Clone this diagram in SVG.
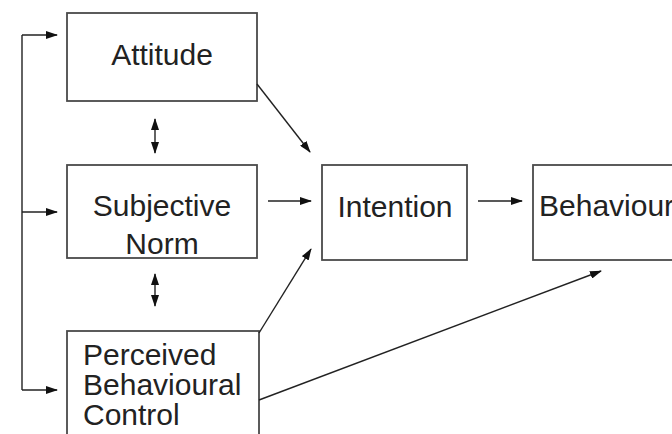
<svg xmlns="http://www.w3.org/2000/svg" width="672" height="434" viewBox="0 0 672 434">
  <style>
    .box { fill: #ffffff; stroke: #4a4a4a; stroke-width: 1.8; }
    .lbl { font-family: "Liberation Sans", Arial, sans-serif; font-size: 30px; fill: #222222; }
    .ln { fill: none; stroke: #222222; stroke-width: 1.4; }
  </style>
  <defs>
    <marker id="ah" viewBox="0 0 12 8" refX="11" refY="4" markerWidth="12" markerHeight="8" markerUnits="userSpaceOnUse" orient="auto-start-reverse">
      <path d="M0,0 L12,4 L0,8 Z" fill="#111111"/>
    </marker>
  </defs>
  <rect width="672" height="434" fill="#ffffff"/>

  <g id="attitude">
    <rect class="box" x="67" y="13" width="190" height="88"/>
    <text class="lbl" x="162" y="65" text-anchor="middle">Attitude</text>
  </g>
  <g id="subjective-norm">
    <rect class="box" x="67" y="165" width="190" height="93"/>
    <text class="lbl" x="162" y="216" text-anchor="middle">Subjective</text>
    <text class="lbl" x="162" y="254" text-anchor="middle">Norm</text>
  </g>
  <g id="perceived-behavioural-control">
    <rect class="box" x="67" y="331" width="192" height="110"/>
    <text class="lbl" x="83" y="365">Perceived</text>
    <text class="lbl" x="83" y="395">Behavioural</text>
    <text class="lbl" x="83" y="425">Control</text>
  </g>
  <g id="intention">
    <rect class="box" x="322" y="165" width="145" height="95"/>
    <text class="lbl" x="395" y="217" text-anchor="middle">Intention</text>
  </g>
  <g id="behaviour">
    <rect class="box" x="533" y="165" width="160" height="95"/>
    <text class="lbl" x="539" y="216">Behaviour</text>
  </g>

  <g id="connectors">
    <line class="ln" x1="22" y1="35" x2="22" y2="390"/>
    <line class="ln" x1="22" y1="35" x2="57" y2="35" marker-end="url(#ah)"/>
    <line class="ln" x1="22" y1="212" x2="57" y2="212" marker-end="url(#ah)"/>
    <line class="ln" x1="22" y1="390" x2="57" y2="390" marker-end="url(#ah)"/>
    <line class="ln" x1="155" y1="119" x2="155" y2="153" marker-start="url(#ah)" marker-end="url(#ah)"/>
    <line class="ln" x1="155" y1="274" x2="155" y2="306" marker-start="url(#ah)" marker-end="url(#ah)"/>
    <line class="ln" x1="257" y1="84" x2="310" y2="152" marker-end="url(#ah)"/>
    <line class="ln" x1="268" y1="201" x2="311" y2="201" marker-end="url(#ah)"/>
    <line class="ln" x1="259" y1="333" x2="311" y2="249" marker-end="url(#ah)"/>
    <line class="ln" x1="478" y1="201" x2="522" y2="201" marker-end="url(#ah)"/>
    <line class="ln" x1="259" y1="400" x2="601" y2="271" marker-end="url(#ah)"/>
  </g>
</svg>
